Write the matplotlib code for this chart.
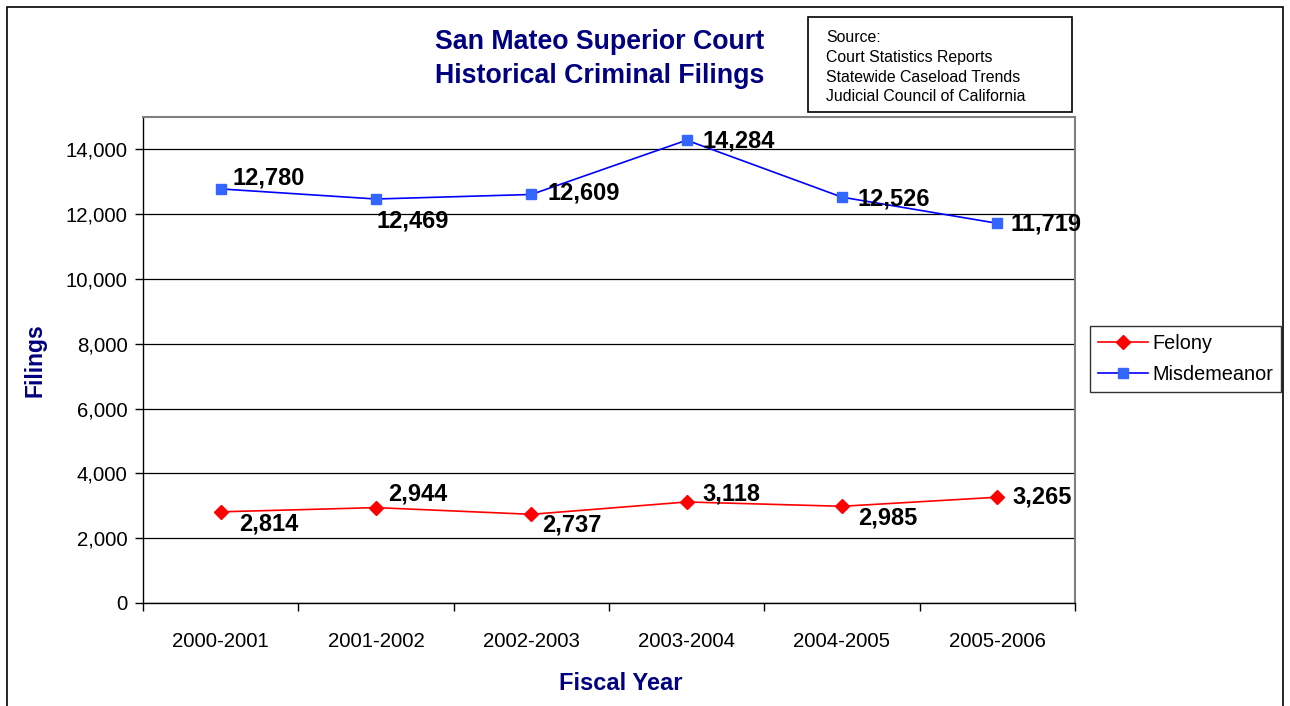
import matplotlib
matplotlib.use("Agg")
import matplotlib.pyplot as plt
from matplotlib.patches import Rectangle

plt.rcParams['font.family'] = ['Liberation Sans', 'DejaVu Sans']

years = ["2000-2001", "2001-2002", "2002-2003", "2003-2004", "2004-2005", "2005-2006"]
felony = [2814, 2944, 2737, 3118, 2985, 3265]
misdemeanor = [12780, 12469, 12609, 14284, 12526, 11719]
yticks = [0, 2000, 4000, 6000, 8000, 10000, 12000, 14000]

# label offsets in pixels (layout only)
mis_off = [(12, 11), (0, -22), (16, 1), (16, -1), (16, -2), (13, -1)]
fel_off = [(18, -12), (12, 14), (11, -11), (16, 8), (16, -12), (15, 0)]

W, H = 1290, 706
fig = plt.figure(figsize=(W / 100, H / 100), dpi=100)
fig.patch.set_facecolor('white')
fig.patches.append(Rectangle((7 / W, -0.05), (1283 - 7) / W, 1 - 7 / H + 0.05,
                             transform=fig.transFigure, fill=False,
                             edgecolor='black', linewidth=1.2))

ax = fig.add_axes([143 / W, 1 - 603 / H, (1075 - 143) / W, (603 - 117) / H])
x = list(range(len(years)))
ax.plot(x, felony, color='#FF0000', lw=1.2, marker='D', ms=7.5,
        mfc='#FF0000', mec='#FF0000', label='Felony', zorder=3)
ax.plot(x, misdemeanor, color='#0000FF', lw=1.2, marker='s', ms=7,
        mfc='#3366FF', mec='#3366FF', label='Misdemeanor', zorder=3)

for xi, v, (dx, dy) in zip(x, misdemeanor, mis_off):
    ax.annotate(f"{v:,}", (xi, v), xytext=(dx, dy), textcoords='offset pixels',
                ha='left', va='center', fontsize=17, fontweight='bold', color='black')
for xi, v, (dx, dy) in zip(x, felony, fel_off):
    ax.annotate(f"{v:,}", (xi, v), xytext=(dx, dy), textcoords='offset pixels',
                ha='left', va='center', fontsize=17, fontweight='bold', color='black')

ax.set_xlim(-0.5, len(years) - 0.5)
ax.set_ylim(0, 15000)
ax.set_yticks(yticks)
ax.set_yticklabels([f"{t:,}" for t in yticks], fontsize=14.7)
ax.set_xticks(x)
ax.set_xticklabels(years, fontsize=14.7)
ax.set_xticks([i - 0.5 for i in range(len(years) + 1)], minor=True)
ax.tick_params(axis='x', which='major', length=0, pad=21)
ax.tick_params(axis='x', which='minor', length=6, direction='out', width=1)
ax.tick_params(axis='y', length=6, direction='out', width=1, pad=5)
ax.grid(axis='y', color='black', lw=0.9)
ax.set_axisbelow(True)
for s in ['top', 'right']:
    ax.spines[s].set_color('#808080')
    ax.spines[s].set_linewidth(1.5)
for s in ['left', 'bottom']:
    ax.spines[s].set_color('black')
    ax.spines[s].set_linewidth(1)

fig.text(35 / W, 1 - 360 / H, "Filings", rotation=90, ha='center', va='center',
         fontsize=16.5, fontweight='bold', color='#000080')
fig.text(621 / W, 1 - 684 / H, "Fiscal Year", ha='center', va='center',
         fontsize=17, fontweight='bold', color='#000080')
fig.text(600 / W, 1 - 42 / H, "San Mateo Superior Court", ha='center', va='center',
         fontsize=19.3, fontweight='bold', color='#000080')
fig.text(600 / W, 1 - 76 / H, "Historical Criminal Filings", ha='center', va='center',
         fontsize=19.3, fontweight='bold', color='#000080')

# source box
fig.patches.append(Rectangle((808 / W, 1 - 112 / H), (1072 - 808) / W, (112 - 17) / H,
                             transform=fig.transFigure, fill=True, facecolor='white',
                             edgecolor='black', linewidth=1.2))
src = ["Source:", "Court Statistics Reports", "Statewide Caseload Trends",
       "Judicial Council of California"]
for i, line in enumerate(src):
    fig.text(826 / W, 1 - (38 + i * 19.5) / H, line, ha='left', va='center',
             fontsize=11.4, color='black')

leg = fig.legend(loc='upper left', bbox_to_anchor=(1090 / W, 1 - 326 / H),
                 fontsize=14.3, frameon=True, fancybox=False, edgecolor='black',
                 handlelength=2.5, borderpad=0.4, labelspacing=0.6,
                 handletextpad=0.25, borderaxespad=0)
leg.get_frame().set_linewidth(1)

fig.savefig("out.png", dpi=100)
